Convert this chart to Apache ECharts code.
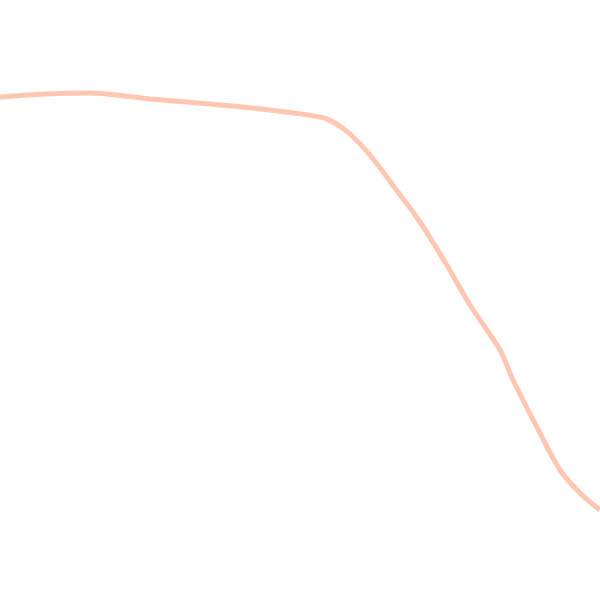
<!DOCTYPE html>
<html>
<head>
<meta charset="utf-8">
<script src="https://cdn.jsdelivr.net/npm/echarts@6/dist/echarts.min.js"></script>
<style>html,body{margin:0;padding:0;background:#fff}#c{width:600px;height:600px}</style>
</head>
<body>
<div id="c"></div>
<script>
var xValues = [0, 45, 90, 150, 210, 270, 320, 335, 350, 370, 395, 420, 445, 470, 500, 513, 540, 560, 580, 600];
var yValues = [503, 506, 507, 501, 496, 490, 483, 477, 466, 445, 412, 378, 338, 295, 250, 220, 167, 130, 107, 90];
var chart = echarts.init(document.getElementById('c'));
chart.setOption({
  animation: false,
  grid: {left: 0, right: 0, top: 0, bottom: 0},
  xAxis: {type: 'value', min: 0, max: 600, show: false},
  yAxis: {type: 'value', min: 0, max: 600, show: false},
  series: [{
    type: 'line',
    data: xValues.map(function (x, i) { return [x, yValues[i]]; }),
    smooth: 0.3,
    symbol: 'none',
    lineStyle: {color: 'rgba(255,175,145,0.7)', width: 5}
  }]
});
</script>
</body>
</html>
